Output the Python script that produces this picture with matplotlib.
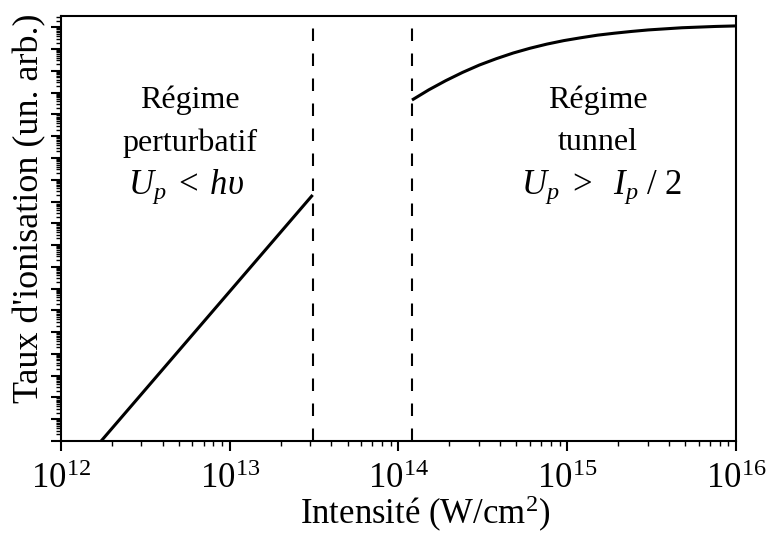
import numpy as np
import matplotlib
matplotlib.use("Agg")
import matplotlib.pyplot as plt
from matplotlib.ticker import LogLocator, NullFormatter, FixedLocator, FixedFormatter

plt.rcParams['font.family'] = ['Liberation Serif', 'DejaVu Serif']
plt.rcParams['mathtext.fontset'] = 'custom'
plt.rcParams['mathtext.rm'] = 'Liberation Serif'
plt.rcParams['mathtext.it'] = 'Liberation Serif:italic'
plt.rcParams['mathtext.bf'] = 'Liberation Serif:bold'

# --- data ---
perturb_x = [1.73e12, 3.1e13]
perturb_logy = [0.0, 11.3]

tunnel_logx = [14.08, 14.18, 14.28, 14.38, 14.48, 14.58, 14.68, 14.78, 14.88,
               14.98, 15.08, 15.18, 15.28, 15.38, 15.48, 15.58, 15.68, 15.78,
               15.88, 15.98, 16.0]
tunnel_logy = [15.66, 16.13, 16.55, 16.93, 17.27, 17.56, 17.82, 18.04, 18.23,
               18.39, 18.52, 18.64, 18.73, 18.81, 18.88, 18.93, 18.98, 19.01,
               19.04, 19.06, 19.065]

boundaries_x = [3.1e13, 1.21e14]

xtick_vals = [1e12, 1e13, 1e14, 1e15, 1e16]
xtick_labels = [r'$10^{12}$', r'$10^{13}$', r'$10^{14}$', r'$10^{15}$', r'$10^{16}$']

ylim_log = (0.0, 19.52)

# --- figure ---
fig = plt.figure(figsize=(7.68, 5.35), dpi=100)
ax = fig.add_axes([0.0794, 0.1757, 0.8789, 0.7944])

ax.set_xscale('log')
ax.set_yscale('log')
ax.set_xlim(1e12, 1e16)
ax.set_ylim(10 ** ylim_log[0], 10 ** ylim_log[1])

ax.plot(perturb_x, 10 ** np.array(perturb_logy), color='black', lw=2.2,
        solid_capstyle='butt')
ax.plot(10 ** np.array(tunnel_logx), 10 ** np.array(tunnel_logy), color='black',
        lw=2.2, solid_capstyle='butt', solid_joinstyle='round')
for bx in boundaries_x:
    ax.axvline(bx, color='black', lw=1.5, dashes=(6, 6))

# ticks
ax.xaxis.set_major_locator(FixedLocator(xtick_vals))
ax.xaxis.set_major_formatter(FixedFormatter(xtick_labels))
ax.xaxis.set_minor_locator(LogLocator(base=10, subs=np.arange(2, 10), numticks=100))
ax.xaxis.set_minor_formatter(NullFormatter())
ax.yaxis.set_major_locator(LogLocator(base=10, numticks=100))
ax.yaxis.set_minor_locator(LogLocator(base=10, subs=np.arange(2, 10), numticks=200))
ax.yaxis.set_major_formatter(NullFormatter())
ax.yaxis.set_minor_formatter(NullFormatter())

ax.tick_params(which='major', direction='out', length=7, width=1.5,
               labelsize=25, pad=9)
ax.tick_params(which='minor', direction='out', length=3.8, width=1.0)
for s in ax.spines.values():
    s.set_linewidth(1.5)

ax.set_xlabel('Intensité (W/cm$^2$)', fontsize=25)
ax.xaxis.set_label_coords(0.539, -0.125)
ax.set_ylabel("Taux d'ionisation (un. arb.)", fontsize=26)
ax.yaxis.set_label_coords(-0.022, 0.548)

# annotations
tf = ax.transAxes
def fx(px):
    return (px - 61) / 675.0
def fy(py):
    return (441 - py) / 425.0

ax.text(fx(190), fy(100), 'Régime', ha='center', va='center', fontsize=23, transform=tf)
ax.text(fx(190), fy(143), 'perturbatif', ha='center', va='center', fontsize=23, transform=tf)
ax.text(fx(186), fy(187), r'$U_p\;<\;h\upsilon$', ha='center', va='center', fontsize=25, transform=tf)

ax.text(fx(598), fy(100), 'Régime', ha='center', va='center', fontsize=23, transform=tf)
ax.text(fx(598), fy(143), 'tunnel', ha='center', va='center', fontsize=23, transform=tf)
ax.text(fx(602), fy(187), r'$U_p\ >\ \ I_p\ /\ 2$', ha='center', va='center', fontsize=25, transform=tf)

fig.savefig('out.png', dpi=100)
